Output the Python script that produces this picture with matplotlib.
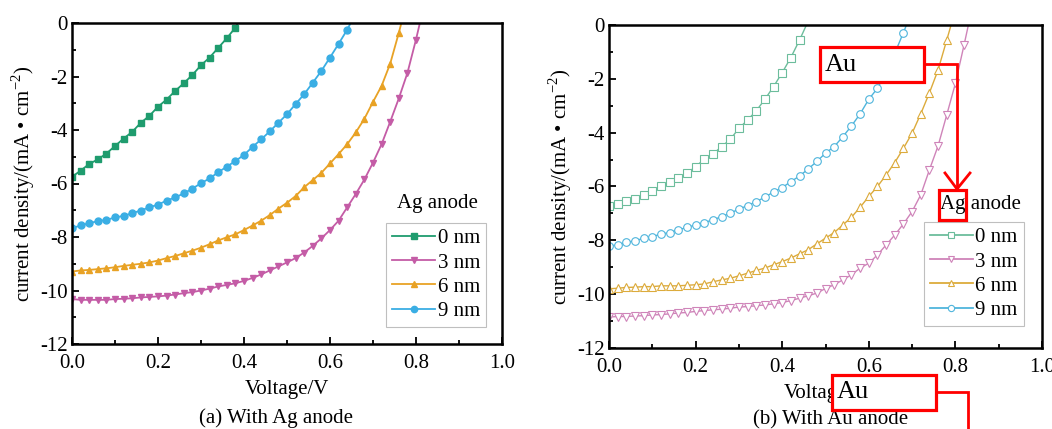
import numpy as np
import matplotlib
matplotlib.use("Agg")
import matplotlib.pyplot as plt
from matplotlib.patches import Rectangle
from matplotlib.lines import Line2D

plt.rcParams['font.family'] = ['Liberation Serif', 'DejaVu Serif']
plt.rcParams['mathtext.fontset'] = 'custom'
plt.rcParams['mathtext.rm'] = 'Liberation Serif'
plt.rcParams['axes.unicode_minus'] = False

# ---------------- data ----------------
voltage_step = 0.02
labels = ["0 nm", "3 nm", "6 nm", "9 nm"]

# (a) Ag anode
ag_0nm = [-5.75, -5.52, -5.27, -5.10, -4.88, -4.60, -4.32, -4.07, -3.73, -3.47,
          -3.13, -2.86, -2.54, -2.25, -1.94, -1.58, -1.29, -0.93, -0.57, -0.17]
ag_3nm = [-10.32, -10.35, -10.35, -10.35, -10.35, -10.32, -10.31, -10.29, -10.26, -10.24,
          -10.22, -10.19, -10.15, -10.10, -10.06, -10.00, -9.93, -9.85, -9.79, -9.73,
          -9.64, -9.53, -9.40, -9.25, -9.10, -8.95, -8.79, -8.58, -8.33, -8.05,
          -7.74, -7.39, -6.89, -6.39, -5.85, -5.22, -4.53, -3.69, -2.82, -1.87, -0.62]
ag_6nm = [-9.29, -9.25, -9.23, -9.20, -9.17, -9.13, -9.08, -9.04, -9.00, -8.95,
          -8.88, -8.79, -8.71, -8.61, -8.51, -8.40, -8.27, -8.13, -8.01, -7.90,
          -7.74, -7.57, -7.39, -7.18, -6.94, -6.72, -6.47, -6.14, -5.87, -5.60,
          -5.25, -4.90, -4.53, -4.09, -3.58, -2.95, -2.35, -1.52, -0.37]
ag_9nm = [-7.67, -7.57, -7.48, -7.41, -7.36, -7.27, -7.21, -7.11, -7.01, -6.89,
          -6.79, -6.64, -6.52, -6.37, -6.19, -5.99, -5.81, -5.58, -5.37, -5.16,
          -4.93, -4.63, -4.35, -4.05, -3.73, -3.41, -3.03, -2.66, -2.23, -1.79,
          -1.29, -0.78, -0.25]
ag_voc = [0.386, 0.809, 0.766, 0.648]   # voltage where each curve crosses J = 0

# (b) Au anode
au_0nm = [-6.72, -6.65, -6.53, -6.45, -6.31, -6.15, -6.00, -5.85, -5.70, -5.51,
          -5.26, -4.99, -4.79, -4.52, -4.25, -3.84, -3.53, -3.19, -2.76, -2.29,
          -1.77, -1.21, -0.56]
au_3nm = [-10.85, -10.83, -10.83, -10.81, -10.80, -10.77, -10.76, -10.73, -10.70, -10.68,
          -10.64, -10.61, -10.58, -10.56, -10.52, -10.48, -10.46, -10.43, -10.40, -10.36,
          -10.31, -10.24, -10.15, -10.06, -9.96, -9.79, -9.65, -9.47, -9.28, -9.03,
          -8.85, -8.54, -8.17, -7.80, -7.39, -6.93, -6.31, -5.38, -4.49, -3.34,
          -2.17, -0.74]
au_6nm = [-9.80, -9.78, -9.75, -9.74, -9.72, -9.72, -9.69, -9.69, -9.69, -9.67,
          -9.65, -9.62, -9.54, -9.47, -9.41, -9.32, -9.22, -9.12, -9.03, -8.91,
          -8.79, -8.66, -8.50, -8.35, -8.13, -7.92, -7.71, -7.43, -7.14, -6.77,
          -6.37, -6.00, -5.57, -5.11, -4.58, -4.02, -3.30, -2.52, -1.67, -0.56]
au_9nm = [-8.21, -8.17, -8.08, -8.01, -7.93, -7.86, -7.77, -7.71, -7.61, -7.52,
          -7.43, -7.34, -7.24, -7.12, -6.99, -6.84, -6.71, -6.56, -6.40, -6.20,
          -6.04, -5.82, -5.61, -5.35, -5.07, -4.76, -4.52, -4.15, -3.75, -3.30,
          -2.76, -2.35, -1.77, -1.05, -0.28]
au_voc = [0.456, 0.830, 0.790, 0.687]

x_ticks = [0.0, 0.2, 0.4, 0.6, 0.8, 1.0]
y_ticks = [0, -2, -4, -6, -8, -10, -12]

# ---------------- style ----------------
ag_colors = ['#1f9c6e', '#c45ca6', '#e8a225', '#3aaee4']
au_colors = ['#6cbd9c', '#cf84b9', '#dcab3c', '#4fb5dc']
ag_markers = ['s', 'v', '^', 'o']
au_markers = ['s', 'v', '^', 'o']

W, H = 1052, 429
fig = plt.figure(figsize=(W / 100, H / 100), dpi=100)


def px_axes(x0, y0, x1, y1):
    return fig.add_axes([x0 / W, 1 - y1 / H, (x1 - x0) / W, (y1 - y0) / H])


ax1 = px_axes(72, 23, 502, 344)
ax2 = px_axes(609, 25, 1042, 348)

fs = 15


def style_axes(ax):
    ax.set_xlim(0, 1.0)
    ax.set_ylim(-12, 0)
    ax.set_xticks(x_ticks)
    ax.set_xticklabels([f"{t:.1f}" for t in x_ticks])
    ax.set_yticks(y_ticks)
    ax.set_yticklabels([f"{t:d}" for t in y_ticks])
    ax.set_xticks(np.arange(0.1, 1.0, 0.2), minor=True)
    ax.set_yticks(np.arange(-11, 0, 2), minor=True)
    ax.tick_params(which='both', direction='in', top=False, right=False,
                   labelsize=fs, width=1.3)
    ax.tick_params(axis='y', pad=3)
    ax.tick_params(axis='x', pad=7)
    ax.tick_params(which='major', length=5)
    ax.tick_params(which='minor', length=3)
    for s in ax.spines.values():
        s.set_linewidth(1.8)
    ax.set_xlabel("Voltage/V", fontsize=fs, labelpad=5)
    ax.set_ylabel(r"current density/(mA • cm$^{\mathregular{-2}}$)", fontsize=fs, labelpad=2)


def plot_series(ax, series, vocs, colors, markers, filled):
    handles = []
    for J, voc, c, m, lab in zip(series, vocs, colors, markers, labels):
        v = np.arange(len(J)) * voltage_step
        vx = np.append(v, voc)
        jy = np.append(np.array(J, dtype=float), 0.0)
        if filled:
            ln, = ax.plot(vx, jy, color=c, lw=1.3, marker=m, ms=5.0,
                          mfc=c, mec=c, markevery=list(range(len(J))), label=lab)
        else:
            ln, = ax.plot(vx, jy, color=c, lw=1.0, marker=m, ms=5.5,
                          mfc='white', mec=c, mew=0.8,
                          markevery=list(range(len(J))), label=lab)
        handles.append(ln)
    return handles


h1 = plot_series(ax1, [ag_0nm, ag_3nm, ag_6nm, ag_9nm], ag_voc, ag_colors, ag_markers, True)
h2 = plot_series(ax2, [au_0nm, au_3nm, au_6nm, au_9nm], au_voc, au_colors, au_markers, False)
style_axes(ax1)
style_axes(ax2)


def make_legend(ax, handles, anchor, filled):
    hs = []
    for h in handles:
        if filled:
            hs.append(Line2D([], [], color=h.get_color(), lw=1.3, marker=h.get_marker(),
                             ms=4.5, mfc=h.get_color(), mec=h.get_color()))
        else:
            hs.append(Line2D([], [], color=h.get_color(), lw=1.3, marker=h.get_marker(),
                             ms=4.5, mfc='white', mec=h.get_color(), mew=0.8))
    leg = ax.legend(hs, labels, loc='upper left', bbox_to_anchor=anchor,
                    borderaxespad=0, fontsize=fs, frameon=True, fancybox=False,
                    handlelength=2.1, handletextpad=0.1, labelspacing=0.22,
                    borderpad=0.28, numpoints=1)
    leg.get_frame().set_edgecolor('#b0b0b0')
    leg.get_frame().set_linewidth(0.8)
    return leg


make_legend(ax1, h1, (0.730, 0.377), True)
make_legend(ax2, h2, (0.727, 0.390), False)
ax1.text(0.851, 0.439, "Ag anode", transform=ax1.transAxes, ha='center', va='center', fontsize=fs)
ax2.text(0.857, 0.443, "Ag anode", transform=ax2.transAxes, ha='center', va='center', fontsize=fs)

fig.text(276 / W, 1 - 418 / H, "(a) With Ag anode", ha='center', va='center', fontsize=fs)
fig.text(831 / W, 1 - 420 / H, "(b) With Au anode", ha='center', va='center', fontsize=fs)

# ---------------- red annotation overlay ----------------
red = '#ff0000'


def fig_rect(x0, y0, x1, y1, fill=True):
    r = Rectangle((x0 / W, 1 - y1 / H), (x1 - x0) / W, (y1 - y0) / H,
                  transform=fig.transFigure, facecolor='white' if fill else 'none',
                  edgecolor=red, lw=2.3, zorder=20)
    fig.add_artist(r)


def fig_line(xs, ys):
    fig.add_artist(Line2D([x / W for x in xs], [1 - y / H for y in ys],
                          transform=fig.transFigure, color=red, lw=2.0, zorder=21,
                          solid_joinstyle='miter'))


fig_rect(820, 47, 924, 82)
fig.text(825 / W, 1 - 65 / H, "Au", fontsize=19, ha='left', va='center', zorder=22)
fig_line([924, 957, 957], [64, 64, 189])
fig_line([945, 957, 970], [173, 189, 173])
fig_rect(939, 190, 966, 220, fill=False)

fig_rect(832, 375, 936, 410)
fig.text(837 / W, 1 - 392 / H, "Au", fontsize=19, ha='left', va='center', zorder=22)
fig_line([936, 968, 968], [392, 392, 432])

fig.savefig("out.png", dpi=100)
